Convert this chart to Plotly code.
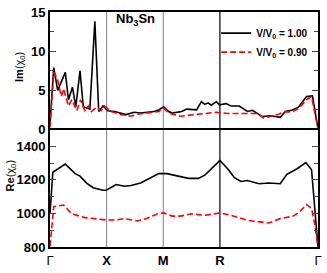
import plotly.graph_objects as go

# k-path coordinates of high-symmetry points
kpt_pos = [0.0, 0.5, 1.0, 1.5, 2.366]
kpt_labels = ["Γ", "<b>X</b>", "<b>M</b>", "<b>R</b>", "Γ"]

# Im(chi0), V/V0 = 1.00
im_k100 = [0.0, 0.033, 0.068, 0.135, 0.163, 0.198, 0.228, 0.265, 0.294, 0.352, 0.396, 0.43, 0.468,
           0.51, 0.57, 0.613, 0.671, 0.743, 0.80, 0.917, 0.96, 1.004, 1.048, 1.077, 1.163, 1.207,
           1.294, 1.337, 1.367, 1.396, 1.424, 1.468, 1.497, 1.512, 1.555, 1.598, 1.671, 1.743,
           1.787, 1.83, 1.874, 1.946, 1.99, 2.033, 2.077, 2.135, 2.193, 2.237, 2.265, 2.317, 2.366]
im_v100 = [0.7, 7.9, 5.0, 7.3, 3.8, 5.4, 2.9, 7.5, 2.9, 2.6, 13.8, 2.3, 3.0,
           2.4, 2.3, 2.1, 1.9, 2.2, 2.1, 2.3, 2.5, 2.9, 2.3, 2.1, 2.3, 2.6,
           2.5, 3.55, 3.2, 3.4, 3.1, 3.55, 3.15, 3.2, 3.3, 3.0, 3.0, 2.3,
           2.45, 2.05, 1.65, 1.75, 1.65, 1.55, 2.3, 2.45, 2.85, 3.6, 4.2, 4.3, 0.1]

# Im(chi0), V/V0 = 0.90
im_k090 = [0.0, 0.033, 0.063, 0.1, 0.12, 0.163, 0.193, 0.237, 0.27, 0.31, 0.338, 0.367, 0.41,
           0.45, 0.48, 0.54, 0.628, 0.715, 0.772, 0.917, 0.96, 1.004, 1.048, 1.15, 1.265, 1.35,
           1.468, 1.57, 1.628, 1.772, 1.83, 1.888, 1.946, 2.019, 2.063, 2.135, 2.193, 2.265,
           2.309, 2.366]
im_v090 = [0.3, 7.3, 6.6, 4.2, 5.2, 3.0, 3.8, 2.4, 3.8, 2.3, 3.0, 2.3, 2.8,
           2.4, 3.0, 2.3, 1.9, 1.7, 1.95, 2.15, 2.3, 2.7, 2.1, 1.7, 1.85, 2.05,
           2.2, 2.05, 2.05, 2.0, 2.05, 1.45, 1.65, 1.95, 2.25, 2.25, 2.65, 3.8,
           4.2, 0.1]

# Re(chi0), V/V0 = 1.00
re_k100 = [0.0, 0.025, 0.135, 0.222, 0.265, 0.323, 0.381, 0.468, 0.497, 0.541, 0.584, 0.657,
           0.715, 0.80, 0.917, 0.96, 1.033, 1.12, 1.222, 1.309, 1.367, 1.424, 1.5, 1.57, 1.628,
           1.685, 1.743, 1.845, 1.932, 2.033, 2.091, 2.178, 2.259, 2.309, 2.337, 2.366]
re_v100 = [1000, 1245, 1294, 1237, 1222, 1181, 1153, 1138, 1138, 1153, 1172, 1162,
           1166, 1181, 1222, 1237, 1237, 1222, 1209, 1209, 1228, 1265, 1316, 1265, 1213,
           1190, 1196, 1177, 1181, 1177, 1233, 1265, 1303, 1260, 1050, 800]

# Re(chi0), V/V0 = 0.90
re_k090 = [0.0, 0.033, 0.12, 0.193, 0.309, 0.396, 0.497, 0.584, 0.657, 0.772, 0.859, 0.946,
           1.004, 1.077, 1.15, 1.25, 1.367, 1.5, 1.598, 1.743, 1.932, 2.033, 2.149, 2.207,
           2.265, 2.309, 2.337, 2.366]
re_v090 = [805, 1040, 1050, 997, 975, 969, 961, 961, 969, 955, 971, 997,
           1003, 984, 984, 997, 989, 1003, 989, 959, 943, 969, 984, 1012,
           1053, 1031, 937, 800]

FONT = "Liberation Sans, Arial, sans-serif"
BLACK_LINE = dict(color="black", width=1.6)
RED_LINE = dict(color="#ff0000", width=1.6, dash="6px,3px")

fig = go.Figure()
fig.add_trace(go.Scatter(x=im_k100, y=im_v100, mode="lines", line=BLACK_LINE,
                         name="<b>V/V<sub>0</sub> = 1.00</b>", xaxis="x", yaxis="y"))
fig.add_trace(go.Scatter(x=im_k090, y=im_v090, mode="lines", line=RED_LINE,
                         name="<b>V/V<sub>0</sub> = 0.90</b>", xaxis="x", yaxis="y"))
fig.add_trace(go.Scatter(x=re_k100, y=re_v100, mode="lines", line=BLACK_LINE,
                         showlegend=False, xaxis="x2", yaxis="y2"))
fig.add_trace(go.Scatter(x=re_k090, y=re_v090, mode="lines", line=RED_LINE,
                         showlegend=False, xaxis="x2", yaxis="y2"))

xr = [kpt_pos[0], kpt_pos[-1]]
fig.update_layout(
    width=327, height=273,
    margin=dict(l=50, r=5, t=5, b=14),
    plot_bgcolor="white", paper_bgcolor="white",
    font=dict(family=FONT, size=13, color="black"),
    xaxis=dict(range=xr, domain=[0, 1], anchor="y", side="top", showline=True, linewidth=2,
               linecolor="black", mirror=False, showgrid=False, zeroline=False, ticks="",
               showticklabels=False),
    xaxis2=dict(range=xr, domain=[0, 1], anchor="y2", showline=True, linewidth=2,
                linecolor="black", mirror=True, showgrid=False, zeroline=False, ticks="",
                tickvals=kpt_pos, ticktext=kpt_labels, tickfont=dict(size=13)),
    yaxis=dict(domain=[0.5, 1], range=[0, 15], anchor="x", tickvals=[0, 5, 10, 15],
               ticktext=["<b>0</b>", "<b>5</b>", "<b>10</b>", "<b>15</b>"],
               ticklabeloverflow="allow",
               showline=True, linewidth=2, linecolor="black", mirror="ticks",
               ticks="inside", ticklen=6, tickwidth=1, showgrid=False, zeroline=False,
               minor=dict(tickvals=[2.5, 7.5, 12.5], ticks="inside", ticklen=4)),
    yaxis2=dict(domain=[0, 0.5], range=[800, 1500], anchor="x2",
                tickvals=[800, 1000, 1200, 1400],
                ticktext=["<b>800</b>", "<b>1000</b>", "<b>1200</b>", "<b>1400</b>"],
                ticklabeloverflow="allow",
                showline=True, linewidth=2, linecolor="black", mirror="ticks",
                ticks="inside", ticklen=6, tickwidth=1, showgrid=False, zeroline=False,
                minor=dict(tickvals=[900, 1100, 1300], ticks="inside", ticklen=4)),
    legend=dict(x=0.62, y=0.972, xanchor="left", yanchor="top", bgcolor="rgba(0,0,0,0)",
                font=dict(size=10, family=FONT), itemwidth=30),
    showlegend=True,
)

# vertical lines at high-symmetry points
for xa, ya in (("x", "y domain"), ("x2", "y2 domain")):
    for k, col, w in ((kpt_pos[1], "#808080", 1), (kpt_pos[2], "#808080", 1), (kpt_pos[3], "black", 1.2)):
        fig.add_shape(type="line", xref=xa, yref=ya, x0=k, x1=k, y0=0, y1=1,
                      line=dict(color=col, width=w), layer="below")

fig.add_annotation(text="<b>Nb<sub>3</sub>Sn</b>", xref="paper", yref="paper", x=0.32, y=0.968,
                   showarrow=False, font=dict(size=13), xanchor="center", yanchor="middle")
fig.add_annotation(text="<b>Im</b>(χ<sub>0</sub>)", xref="paper", yref="paper", x=-0.114, y=0.768,
                   textangle=-90, showarrow=False, font=dict(size=11), xanchor="center", yanchor="middle")
fig.add_annotation(text="<b>Re</b>(χ<sub>0</sub>)", xref="paper", yref="paper", x=-0.147, y=0.303,
                   textangle=-90, showarrow=False, font=dict(size=11), xanchor="center", yanchor="middle")

fig.write_html("out.html", config={"displayModeBar": False},
               post_script="document.body.style.margin='0px';")
